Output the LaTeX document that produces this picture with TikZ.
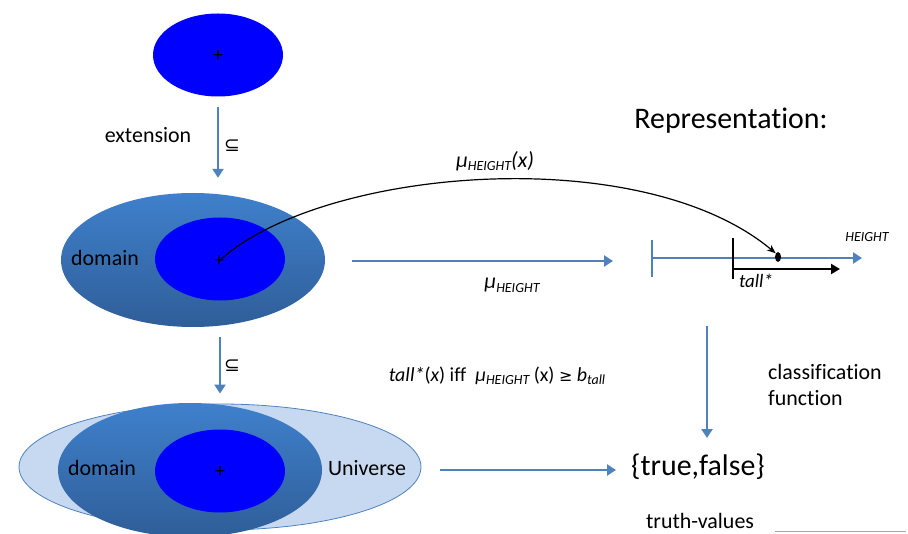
\documentclass[tikz,border=0pt]{standalone}
\usepackage{fontspec}
\setmainfont[Ligatures={NoCommon}]{Carlito}
\newfontfamily\symf{DejaVu Sans}
\usetikzlibrary{shapes.geometric,arrows.meta}
\definecolor{steel}{HTML}{4F81BD}
\definecolor{pureblue}{HTML}{0000FF}
\definecolor{domtop}{HTML}{3F80CC}
\definecolor{dombot}{HTML}{2F5E98}
\definecolor{unifill}{HTML}{C6D9F0}
\tikzset{
  bluearrow/.style={draw=steel, line width=2.6bp, -{Triangle[length=9bp,width=11bp]}},
  core/.style={ellipse, fill=pureblue, minimum width=130bp, minimum height=83bp, inner sep=0pt},
  domainell/.style={ellipse, top color=domtop, bottom color=dombot, minimum width=264bp, minimum height=134bp, inner sep=0pt},
  txt/.style={inner sep=0pt, font=\fontsize{22}{26}\selectfont},
  plusmark/.style={inner sep=0pt, text=black, font=\fontsize{20}{22}\selectfont},
}
\newcommand{\sub}[1]{\raisebox{-0.35ex}{\fontsize{14}{15}\selectfont\itshape #1}}
\begin{document}
\begin{tikzpicture}[x=1bp,y=-1bp]
\useasboundingbox (0,0) rectangle (908,534);
% top
\node[core] (top) at (218,55) {};
\node[plusmark] (topplus) at (218,56) {+};
% middle
\node[domainell] (mid) at (193,260) {};
\node[core] (midcore) at (220,259) {};
\node[plusmark] (midplus) at (219,261) {+};
\node[txt] (middom) at (105,258) {domain};
% bottom
\node[ellipse, fill=unifill, draw=steel, line width=0.8bp, minimum width=402bp, minimum height=126bp, inner sep=0pt] (uni) at (220,467) {};
\node[domainell] (botdom) at (190,470) {};
\node[core] (botcore) at (220,471) {};
\node[plusmark] (botplus) at (220,472) {+};
\node[txt] (botdomt) at (102,468) {domain};
\node[txt] (unit) at (367,468) {Universe};
% vertical arrows
\draw[bluearrow, shorten <=10bp, shorten >=15bp] (top) -- (top |- mid.north);
\node[txt] (ext) at (148,135) {extension};
\node[inner sep=0pt, font=\symf\fontsize{19}{21}\selectfont] (sub1) at (232,146) {⊆};
\draw[bluearrow, shorten <=10bp, shorten >=10bp] (midcore |- mid.south) -- (midcore |- uni.north);
\node[inner sep=0pt, font=\symf\fontsize{19}{21}\selectfont] (sub2) at (232,366) {⊆};
% representation
\node[inner sep=0pt, font=\fontsize{30}{34}\selectfont] (rep) at (731,121) {Representation:};
% horizontal arrow middle
\coordinate (m1) at (352,261);
\coordinate (m2) at (613,261);
\draw[bluearrow] (m1) -- (m2);
\node[inner sep=0pt, font=\fontsize{22}{26}\selectfont] (mulab) at (512,285) {\itshape μ\sub{HEIGHT}};
% axis
\coordinate (a0) at (652,258);
\coordinate (a1) at (862,258);
\coordinate (t0) at (652,240);
\coordinate (t1) at (652,277);
\draw[bluearrow] (a0) -- (a1);
\draw[draw=steel, line width=2.6bp] (t0) -- (t1);
\node[inner sep=0pt, font=\fontsize{14}{16}\selectfont\itshape] (hgt) at (867,237) {HEIGHT};
\coordinate (b0) at (733,238);
\coordinate (b1) at (733,279);
\draw[black, line width=2.2bp] (b0) -- (b1);
\coordinate (c0) at (733,269);
\coordinate (c1) at (840,269);
\draw[black, line width=2.2bp, -{Triangle[length=9bp,width=10bp]}] (c0) -- (c1);
\node[inner sep=0pt, font=\fontsize{19}{22}\selectfont\itshape] (tallt) at (756,281) {tall*};
\node[ellipse, fill=black, minimum width=6bp, minimum height=10bp, inner sep=0pt] (dot) at (778,257) {};
% curve
\draw[black, line width=1.2bp, -{Stealth[length=9bp,width=7bp]}] (midplus.center) .. controls (320,168) and (640,140) .. (dot.north west);
\node[inner sep=0pt, font=\fontsize{22}{26}\selectfont] (mux) at (495,161) {\itshape μ\sub{HEIGHT}(x)};
% iff
\node[inner sep=0pt, font=\fontsize{20}{24}\selectfont] (iff) at (497,376) {\itshape tall*\upshape(\itshape x\upshape) iff\ \ \itshape μ\sub{HEIGHT}\upshape\ (x) {\symf\fontsize{16}{18}\selectfont ≥} \itshape b\sub{tall}};
% classification
\coordinate (v0) at (707,326);
\coordinate (v1) at (707,438);
\draw[bluearrow] (v0) -- (v1);
\node[inner sep=0pt, align=left, anchor=west, font=\fontsize{22}{26}\selectfont] (cls) at (768,385) {classification\\function};
% bottom arrow
\coordinate (h0) at (440,470);
\coordinate (h1) at (616,470);
\draw[bluearrow] (h0) -- (h1);
\node[inner sep=0pt, font=\fontsize{30}{34}\selectfont] (tf) at (698,467) {\{true,false\}};
\node[txt] (tv) at (700,521) {truth-values};
\coordinate (g0) at (775,531);
\coordinate (g1) at (906,531);
\draw[gray!70, line width=0.8bp] (g0) -- (g1);
\end{tikzpicture}
\end{document}
